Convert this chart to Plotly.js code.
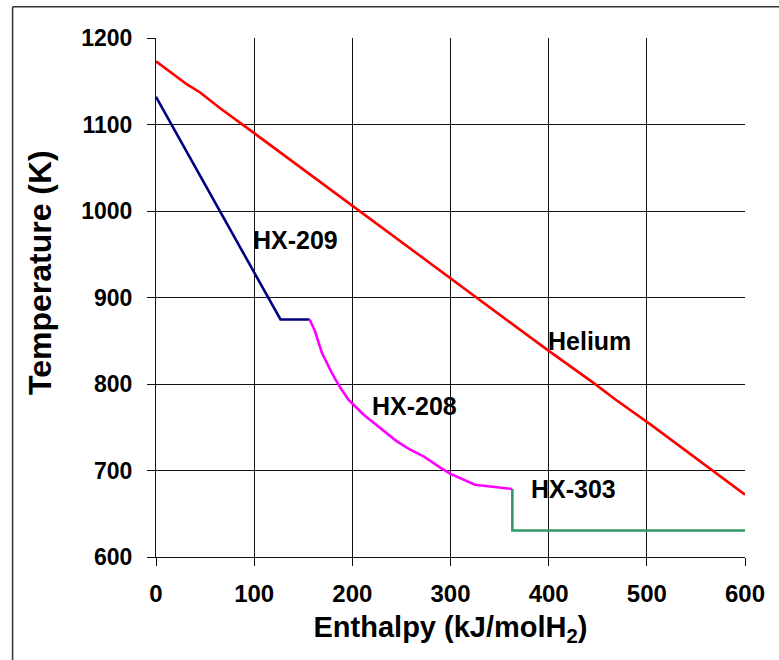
<!DOCTYPE html>
<html>
<head>
<meta charset="utf-8">
<script src="https://cdn.plot.ly/plotly-3.0.1.min.js"></script>
<style>html,body{margin:0;padding:0;background:#fff}#chart{width:779px;height:660px}</style>
</head>
<body>
<div id="chart"></div>
<script>
// Helium (hot side)
const heliumX = [0, 32, 45, 65, 100, 150, 200, 300, 398, 446, 468, 504, 600];
const heliumT = [1173, 1146, 1137, 1119, 1090, 1048, 1007, 923, 840, 801, 782, 753, 672];
// HX-209
const hx209X = [0, 126.8, 156.5];
const hx209T = [1132, 874.6, 874.6];
// HX-208
const hx208X = [156.5, 162, 169, 179, 187, 196, 211, 228, 245, 259, 273, 290, 300, 325, 363];
const hx208T = [874.6, 861, 836, 813, 797, 782, 765, 749, 734, 724, 716, 703, 696, 683.6, 678.6];
// HX-303
const hx303X = [363, 363, 600];
const hx303T = [678.6, 630.7, 630.7];

const labelNames = ["HX-209", "HX-208", "Helium", "HX-303"];
const labelX = [142, 263, 442, 425];
const labelT = [966, 774, 850, 679];

const xTicks = [0, 100, 200, 300, 400, 500, 600];
const yTicks = [600, 700, 800, 900, 1000, 1100, 1200];

const lw = 2.6;
const traces = [
  {x: heliumX, y: heliumT, mode: 'lines', line: {color: '#FF0000', width: lw}, name: 'Helium'},
  {x: hx209X, y: hx209T, mode: 'lines', line: {color: '#000080', width: lw}, name: 'HX-209'},
  {x: hx208X, y: hx208T, mode: 'lines', line: {color: '#FF00FF', width: lw}, name: 'HX-208'},
  {x: hx303X, y: hx303T, mode: 'lines', line: {color: '#339966', width: lw}, name: 'HX-303'}
];

const fam = 'Liberation Sans, Arial, sans-serif';
const annots = labelNames.map((t, i) => ({
  x: labelX[i], y: labelT[i], xref: 'x', yref: 'y', text: '<b>' + t + '</b>',
  showarrow: false, xanchor: 'center', yanchor: 'middle',
  font: {size: 25, family: fam, color: '#000'}
}));
annots.push({
  x: -0.197, y: 0.549, xref: 'paper', yref: 'paper', text: '<b>Temperature (K)</b>',
  textangle: -90, showarrow: false, xanchor: 'center', yanchor: 'middle',
  font: {size: 32, family: fam, color: '#000'}
});

const layout = {
  width: 779, height: 660,
  margin: {l: 156, r: 34, t: 38, b: 103},
  paper_bgcolor: '#fff', plot_bgcolor: '#fff',
  showlegend: false,
  font: {family: fam, color: '#000'},
  xaxis: {
    range: [0, 600], tickvals: xTicks, ticktext: xTicks.map(String),
    showgrid: true, gridcolor: '#111', gridwidth: 1,
    showline: true, linecolor: '#111', linewidth: 1,
    ticks: 'outside', ticklen: 8, tickcolor: '#111', tickwidth: 1,
    zeroline: false, ticklabelstandoff: 7,
    tickfont: {size: 24, family: fam, weight: 'bold', color: '#000'},
    title: {text: '<b>Enthalpy (kJ/molH<sub>2</sub>)</b>', font: {size: 29, family: fam, color: '#000'}, standoff: 10}
  },
  yaxis: {
    range: [600, 1200], tickvals: yTicks, ticktext: yTicks.map(String),
    showgrid: true, gridcolor: '#111', gridwidth: 1,
    showline: true, linecolor: '#111', linewidth: 1,
    ticks: 'outside', ticklen: 8, tickcolor: '#111', tickwidth: 1,
    zeroline: false, ticklabelstandoff: 10,
    tickfont: {size: 23, family: fam, weight: 'bold', color: '#000'}
  },
  annotations: annots,
  shapes: [
    {type: 'line', xref: 'paper', yref: 'paper', x0: -0.2435, x1: -0.2435, y0: 1.06, y1: -0.3, line: {color: '#333', width: 1.5}},
    {type: 'line', xref: 'paper', yref: 'paper', x0: -0.2435, x1: 1.07, y0: 1.06, y1: 1.06, line: {color: '#333', width: 1.5}}
  ]
};
Plotly.newPlot('chart', traces, layout, {displayModeBar: false, staticPlot: true});
</script>
</body>
</html>
